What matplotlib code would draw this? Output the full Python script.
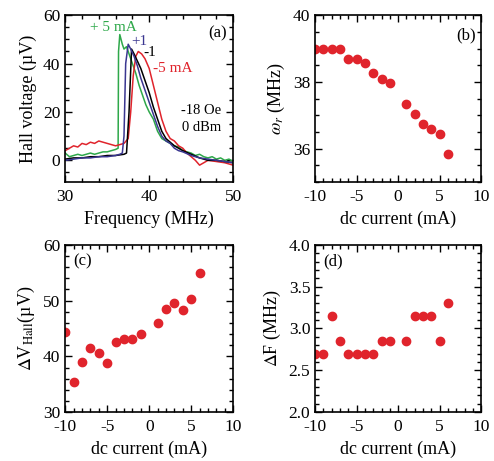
import matplotlib.pyplot as plt
from matplotlib.ticker import MultipleLocator

plt.rcParams['font.family'] = ['Liberation Serif', 'DejaVu Serif']
plt.rcParams['mathtext.fontset'] = 'stix'
plt.rcParams['axes.unicode_minus'] = False

# (a) Hall voltage spectra
f_p5 = [30, 30.5, 31, 31.5, 32, 32.5, 33, 33.5, 34, 34.5, 35, 35.5, 36, 36.3, 36.35, 36.5,
        36.8, 37, 37.3, 37.6, 38, 38.4, 38.8, 39.2, 39.6, 40, 40.5, 41, 41.5, 42, 42.5, 43,
        43.5, 44, 44.5, 45, 45.5, 46, 46.5, 47, 47.5, 48, 48.5, 49, 49.5, 50]
v_p5 = [3, 1.5, 2, 2.5, 2, 2.5, 3, 2.5, 3, 3.5, 3.5, 4, 4.5, 5, 45, 52,
        48, 46, 47, 44, 40, 36, 31, 27, 23, 20, 17, 12, 9, 8, 7, 6,
        5.5, 4, 3.5, 3, 2, 2.5, 1.5, 1, 1.5, 0.5, 1, 0, 0.5, -0.5]

f_p1 = [30, 31, 32, 33, 34, 35, 36, 36.5, 36.8, 37.0, 37.2, 37.5, 37.8, 38.2, 38.6, 39,
        39.5, 40, 40.5, 41, 41.5, 42, 42.5, 43, 43.5, 44, 45, 46, 47, 48, 49, 50]
v_p1 = [0, 0.5, 1, 1, 1.5, 1.5, 2, 2.5, 3, 10, 40, 48, 46, 43, 39, 34,
        29, 24, 19, 14, 10, 8, 7, 5, 4, 3.5, 2, 1, 0.5, 0, -0.5, -1]

f_m1 = [30, 31, 32, 33, 34, 35, 36, 37, 37.3, 37.6, 37.9, 38.2, 38.6, 39, 39.5, 40,
        40.5, 41, 41.5, 42, 43, 44, 45, 46, 47, 48, 49, 50]
v_m1 = [0.5, 1, 1, 1.5, 1.5, 2, 2, 2.5, 3, 20, 46, 44, 41, 38, 33, 28,
        22, 17, 12, 9, 6, 4, 2.5, 1, 0, 0, -0.5, -1]

f_m5 = [30, 30.5, 31, 31.5, 32, 32.5, 33, 33.5, 34, 34.5, 35, 35.5, 36, 36.5, 37, 37.5,
        37.8, 38.1, 38.4, 38.7, 39.1, 39.5, 40, 40.5, 41, 41.5, 42, 42.5, 43, 43.5, 44,
        44.5, 45, 45.5, 46, 46.5, 47, 48, 49, 50]
v_m5 = [4, 5, 6, 5.5, 7, 6.5, 7.5, 7, 8, 7.5, 7, 6.5, 6, 6.5, 7, 9,
        20, 35, 43, 45, 44, 42, 38, 31, 24, 17, 12, 9, 8, 6, 5,
        3, 1.5, 0, -2, -1, 0, -0.5, -1, -2]

# (b)-(d) versus dc current
current = [-10, -9, -8, -7, -6, -5, -4, -3, -2, -1, 1, 2, 3, 4, 5, 6]
omega_r = [39.0, 39.0, 39.0, 39.0, 38.7, 38.7, 38.57, 38.27, 38.1, 37.97,
           37.35, 37.05, 36.75, 36.6, 36.45, 35.85]
dv_hall = [44.3, 35.4, 39.0, 41.5, 40.6, 38.8, 42.6, 43.2, 43.2, 44.0,
           46.0, 48.5, 49.6, 48.3, 50.3, 55.0]
delta_f = [2.70, 2.70, 3.15, 2.85, 2.70, 2.70, 2.70, 2.70, 2.85, 2.85,
           2.85, 3.15, 3.15, 3.15, 2.85, 3.30]

red = '#e0242c'
green = '#2ea84a'
navy = '#3a3690'

fig = plt.figure(figsize=(4.94, 4.61), dpi=100)
ax_a = fig.add_axes([0.132, 0.605, 0.34, 0.362])
ax_b = fig.add_axes([0.638, 0.605, 0.336, 0.362])
ax_c = fig.add_axes([0.132, 0.106, 0.34, 0.363])
ax_d = fig.add_axes([0.638, 0.106, 0.336, 0.363])


def style(ax):
    ax.tick_params(which='both', direction='in', top=True, right=True, labelsize=12.5, width=1)
    ax.tick_params(which='major', length=5)
    ax.tick_params(which='minor', length=3)
    ax.tick_params(axis='x', pad=5)
    for s in ax.spines.values():
        s.set_linewidth(1.2)


ax_a.plot(f_p5, v_p5, color=green, lw=1.1)
ax_a.plot(f_m5, v_m5, color=red, lw=1.1)
ax_a.plot(f_m1, v_m1, color='black', lw=1.1)
ax_a.plot(f_p1, v_p1, color=navy, lw=1.1)
ax_a.set_xlim(30, 50)
ax_a.set_ylim(-9, 60)
ax_a.xaxis.set_major_locator(MultipleLocator(10))
ax_a.xaxis.set_minor_locator(MultipleLocator(2))
ax_a.yaxis.set_major_locator(MultipleLocator(20))
ax_a.yaxis.set_minor_locator(MultipleLocator(5))
ax_a.set_xlabel('Frequency (MHz)', fontsize=13)
ax_a.set_ylabel('Hall voltage (µV)', fontsize=13)
ax_a.text(33.0, 53.5, '+ 5 mA', color=green, fontsize=11)
ax_a.text(37.9, 47.5, '+1', color=navy, fontsize=11)
ax_a.text(39.3, 43, '-1', color='black', fontsize=11)
ax_a.text(40.5, 36.5, '-5 mA', color=red, fontsize=11)
ax_a.text(48.6, 19, '-18 Oe', color='black', fontsize=10.5, ha='right')
ax_a.text(48.6, 12, '0 dBm', color='black', fontsize=10.5, ha='right')
ax_a.text(49.2, 51, '(a)', fontsize=12, ha='right')
style(ax_a)

for ax, vals in [(ax_b, omega_r), (ax_c, dv_hall), (ax_d, delta_f)]:
    ax.plot(current, vals, 'o', color=red, ms=6, mec=red)
    ax.set_xlim(-10, 10)
    ax.xaxis.set_major_locator(MultipleLocator(5))
    ax.xaxis.set_minor_locator(MultipleLocator(1))
    ax.set_xlabel('dc current (mA)', fontsize=13)
    style(ax)

ax_b.set_ylim(35, 40)
ax_b.yaxis.set_major_locator(MultipleLocator(2))
ax_b.yaxis.set_minor_locator(MultipleLocator(0.5))
ax_b.set_ylabel(r'$\omega_r$ (MHz)', fontsize=13)
ax_b.text(0.97, 0.93, '(b)', transform=ax_b.transAxes, fontsize=12, ha='right', va='top')

ax_c.set_ylim(30, 60)
ax_c.yaxis.set_major_locator(MultipleLocator(10))
ax_c.yaxis.set_minor_locator(MultipleLocator(2))
ax_c.set_ylabel(r'$\Delta$V$_{\mathrm{Hall}}$(µV)', fontsize=13)
ax_c.text(0.05, 0.95, '(c)', transform=ax_c.transAxes, fontsize=12, va='top')

ax_d.set_ylim(2.0, 4.0)
ax_d.yaxis.set_major_locator(MultipleLocator(0.5))
ax_d.yaxis.set_minor_locator(MultipleLocator(0.1))
ax_d.yaxis.set_major_formatter('{x:.1f}')
ax_d.set_ylabel(r'$\Delta$F (MHz)', fontsize=13)
ax_d.text(0.05, 0.95, '(d)', transform=ax_d.transAxes, fontsize=12, va='top')

fig.savefig('out.png', dpi=100)
